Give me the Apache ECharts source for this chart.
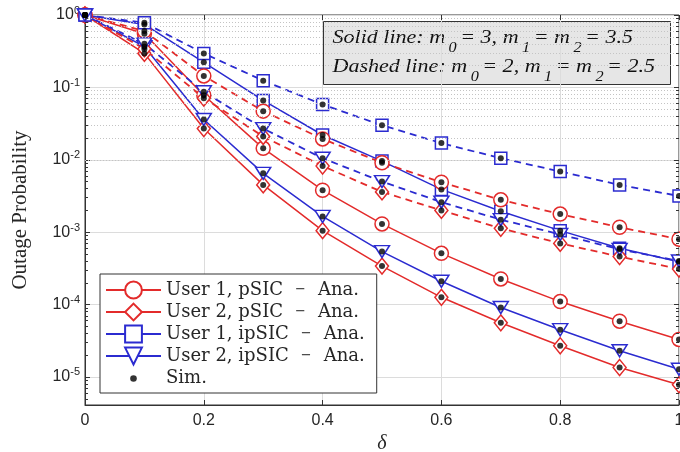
<!DOCTYPE html>
<html><head><meta charset="utf-8">
<script src="https://cdn.jsdelivr.net/npm/echarts@6/dist/echarts.min.js"></script>
<style>html,body{margin:0;padding:0;background:#fff}#c{width:680px;height:452px}</style>
</head><body><div id="c"></div>
<script>
// ---- data ----
const deltas = [0, 0.1, 0.2, 0.3, 0.4, 0.5, 0.6, 0.7, 0.8, 0.9, 1.0];
const xTickLabels = ['0', '0.2', '0.4', '0.6', '0.8', '1'];
const xTicks = [0, 0.2, 0.4, 0.6, 0.8, 1];
const yTickExponents = [0, -1, -2, -3, -4, -5];
const yMin = 4.1e-6;
const yMax = 1;

// Solid lines: m0 = 3, m1 = m2 = 3.5
const solidU1pSIC  = [1, 0.55, 0.078, 0.0144, 3.8e-3, 1.3e-3, 5.1e-4, 2.26e-4, 1.1e-4, 5.9e-5, 3.3e-5];
const solidU2pSIC  = [1, 0.295, 0.027, 4.5e-3, 1.05e-3, 3.4e-4, 1.26e-4, 5.6e-5, 2.7e-5, 1.35e-5, 7.8e-6];
const solidU1ipSIC = [1, 0.74, 0.222, 0.066, 0.022, 9.6e-3, 3.9e-3, 1.95e-3, 1.05e-3, 6.0e-4, 3.9e-4];
const solidU2ipSIC = [1, 0.365, 0.036, 6.5e-3, 1.65e-3, 5.4e-4, 2.1e-4, 9.1e-5, 4.5e-5, 2.3e-5, 1.28e-5];
// Dashed lines: m0 = 2, m1 = m2 = 2.5
const dashU1pSIC  = [1, 0.6, 0.144, 0.047, 0.0194, 9.1e-3, 4.9e-3, 2.8e-3, 1.78e-3, 1.17e-3, 8.0e-4];
const dashU2pSIC  = [1, 0.34, 0.071, 0.021, 8.2e-3, 3.6e-3, 2.0e-3, 1.13e-3, 7.0e-4, 4.6e-4, 3.1e-4];
const dashU1ipSIC = [1, 0.78, 0.295, 0.124, 0.058, 0.030, 0.017, 0.0105, 6.9e-3, 4.5e-3, 3.16e-3];
const dashU2ipSIC = [1, 0.40, 0.087, 0.027, 0.0105, 5.0e-3, 2.6e-3, 1.49e-3, 9.3e-4, 5.8e-4, 4.0e-4];
// Simulation points (coincide with the analysis)
const simCurves = [solidU1pSIC, solidU2pSIC, solidU1ipSIC, solidU2ipSIC, dashU1pSIC, dashU2pSIC, dashU1ipSIC, dashU2ipSIC];

const names = ['User 1, pSIC \u2212 Ana.', 'User 2, pSIC \u2212 Ana.', 'User 1, ipSIC \u2212 Ana.', 'User 2, ipSIC \u2212 Ana.', 'Sim.'];

// ---- styling ----
const RED = '#e32b2b';
const BLUE = '#2b2bd0';
const SERIF = 'Liberation Serif';
const LEGEND_FONT = 'DejaVu Serif';
const SANS = 'Liberation Sans';
const AXIS = '#333';
const TRI = 'path://M0,0L20,0L10,16Z';
const DOT_ICON = 'path://M0,0M55,21M24.2,10.5a3.3,3.3 0 1,0 6.6,0a3.3,3.3 0 1,0 -6.6,0Z';
const PLOT_W = 594, PLOT_H = 390, TICK_PX = 5;

function pairs(arr) { return deltas.map((x, i) => [x, arr[i]]); }

function lineSeries(name, arr, color, symbol, size, dashed) {
  return {
    name: name, type: 'line', data: pairs(arr),
    symbol: symbol, symbolSize: size, showAllSymbol: true,
    lineStyle: { color: color, width: dashed ? 1.8 : 1.5, type: dashed ? [7, 5] : 'solid' },
    itemStyle: { color: '#fff', borderColor: color, borderWidth: 1.5 },
    z: 2
  };
}

// minor (2..9 per decade) grid values
const minorVals = [];
for (let e = -6; e < 0; e++) {
  for (let k = 2; k <= 9; k++) {
    const v = k * Math.pow(10, e);
    if (v > yMin && v < yMax) minorVals.push(v);
  }
}
const logSpan = Math.log10(yMax) - Math.log10(yMin);
const tickDx = TICK_PX / PLOT_W;                         // tick length in x units
const topTickEnd = Math.pow(10, -logSpan * TICK_PX / PLOT_H); // tick length below top border

const tickLines = [];
minorVals.forEach(v => {
  tickLines.push([{ coord: [0, v] }, { coord: [tickDx * 0.6, v] }]);
  tickLines.push([{ coord: [1 - tickDx * 0.6, v] }, { coord: [1, v] }]);
});
yTickExponents.forEach(e => {
  const v = Math.pow(10, e);
  tickLines.push([{ coord: [1 - tickDx, v] }, { coord: [1, v] }]);
});
xTicks.forEach(x => tickLines.push([{ coord: [x, yMax] }, { coord: [x, topTickEnd] }]));

const simData = [];
simCurves.forEach(c => c.forEach((v, i) => simData.push([deltas[i], v])));

const series = [
  {
    name: 'minorGrid', type: 'line', data: [], silent: true, z: 0,
    markLine: {
      silent: true, symbol: ['none', 'none'], label: { show: false }, animation: false,
      lineStyle: { color: '#c4c4c4', type: [1, 2], width: 1 },
      data: minorVals.map(v => ({ yAxis: v }))
    }
  },
  {
    name: 'ticks', type: 'line', data: [], silent: true, z: 6,
    markLine: {
      silent: true, symbol: ['none', 'none'], label: { show: false }, animation: false,
      lineStyle: { color: AXIS, type: 'solid', width: 1 },
      data: tickLines
    }
  },
  lineSeries(names[0], solidU1pSIC, RED, 'circle', 14, false),
  lineSeries(names[1], solidU2pSIC, RED, 'diamond', [13, 16], false),
  lineSeries(names[2], solidU1ipSIC, BLUE, 'rect', 12, false),
  lineSeries(names[3], solidU2ipSIC, BLUE, TRI, [15, 12], false),
  lineSeries('d1', dashU1pSIC, RED, 'circle', 14, true),
  lineSeries('d2', dashU2pSIC, RED, 'diamond', [13, 16], true),
  lineSeries('d3', dashU1ipSIC, BLUE, 'rect', 12, true),
  lineSeries('d4', dashU2ipSIC, BLUE, TRI, [15, 12], true),
  {
    name: names[4], type: 'scatter', data: simData, symbol: 'circle', symbolSize: 6,
    itemStyle: { color: '#000' }, z: 5
  }
];

const subRich = {
  i: { fontFamily: SERIF, fontStyle: 'italic', fontSize: 19, fill: '#111' },
  s: { fontFamily: SERIF, fontStyle: 'italic', fontSize: 14, fill: '#111', padding: [22, 3, 0, 3] }
};

const chart = echarts.init(document.getElementById('c'), null, { renderer: 'canvas' });
chart.setOption({
  animation: false,
  backgroundColor: '#fff',
  grid: {
    left: 85, top: 15, width: PLOT_W, height: PLOT_H, outerBoundsMode: 'none', containLabel: false,
    show: true, borderColor: AXIS, borderWidth: 1, backgroundColor: 'transparent'
  },
  xAxis: {
    type: 'value', min: 0, max: 1, interval: 0.2,
    name: '\u03b4', nameLocation: 'middle', nameGap: 3,
    nameTextStyle: { fontFamily: SERIF, fontStyle: 'italic', fontSize: 20, color: '#262626' },
    axisLine: { show: true, lineStyle: { color: AXIS, width: 1 } },
    axisTick: { show: true, inside: true, length: 5, lineStyle: { color: AXIS } },
    axisLabel: {
      margin: 8, fontFamily: SANS, fontSize: 16, color: '#262626',
      formatter: v => xTickLabels[Math.round(v / 0.2)]
    },
    splitLine: { show: true, lineStyle: { color: '#dcdcdc', width: 1 } }
  },
  yAxis: {
    type: 'log', logBase: 10, min: yMin, max: yMax,
    name: 'Outage Probability', nameLocation: 'middle', nameGap: 54,
    nameTextStyle: { fontFamily: SERIF, fontSize: 21, color: '#262626' },
    axisLine: { show: true, lineStyle: { color: AXIS, width: 1 } },
    axisTick: { show: true, inside: true, length: 5, lineStyle: { color: AXIS } },
    axisLabel: {
      margin: 5, showMinLabel: false,
      formatter: v => {
        const e = Math.round(Math.log10(v));
        if (yTickExponents.indexOf(e) < 0) return '';
        return '{b|10}{e|' + (e === 0 ? '0' : '-' + (-e)) + '}';
      },
      rich: {
        b: { fontFamily: SANS, fontSize: 16, color: '#262626' },
        e: { fontFamily: SANS, fontSize: 11, color: '#262626', padding: [0, 0, 9, 0] }
      }
    },
    splitLine: { show: true, lineStyle: { color: '#dcdcdc', width: 1 } }
  },
  legend: {
    data: names.slice(0, 4).concat([{ name: names[4], icon: DOT_ICON }]),
    orient: 'vertical', left: 100, top: 274,
    itemWidth: 55, itemHeight: 21, itemGap: 2,
    padding: [6, 12, 4, 5],
    backgroundColor: '#fff', borderColor: AXIS, borderWidth: 1,
    formatter: name => {
      const parts = name.split(' \u2212 ');
      if (parts.length < 2) return '{t|' + name + '}';
      return '{t|' + parts[0] + '}{d|\u2212}{t|' + parts[1] + '}';
    },
    textStyle: {
      fontFamily: LEGEND_FONT, fontSize: 18, color: '#262626', lineHeight: 20,
      rich: {
        t: { fontFamily: LEGEND_FONT, fontSize: 18, color: '#262626', lineHeight: 20 },
        d: { fontFamily: LEGEND_FONT, fontSize: 13, color: '#262626', lineHeight: 20, padding: [0, 12, 0, 12] }
      }
    }
  },
  graphic: [{
    type: 'group', left: 323, top: 21, z: 100,
    children: [
      { type: 'rect', shape: { x: 0, y: 0, width: 347, height: 63 }, style: { fill: '#e6e6e6', stroke: AXIS, lineWidth: 1 } },
      {
        type: 'text', x: 9, y: 16, scaleX: 1.16,
        style: {
          text: '{i|Solid line: m}{s|0}{i|= 3, m}{s|1}{i|= m}{s|2}{i|= 3.5}',
          verticalAlign: 'middle', rich: subRich
        }
      },
      {
        type: 'text', x: 9, y: 45, scaleX: 1.16,
        style: {
          text: '{i|Dashed line: m}{s|0}{i|= 2, m}{s|1}{i|= m}{s|2}{i|= 2.5}',
          verticalAlign: 'middle', rich: subRich
        }
      }
    ]
  }],
  series: series
});
</script></body></html>
